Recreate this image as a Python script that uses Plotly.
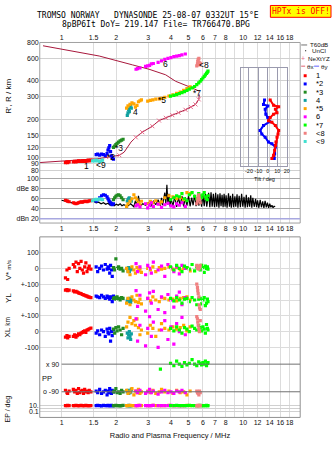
import math
import plotly.graph_objects as go

W, H = 335, 451

# ---------------- data ----------------
FREQ_TICKS = [1, 1.5, 2, 3, 4, 5, 6, 7, 8, 9, 10, 12, 14, 16, 18]
TOP_FREQ_LABELS = ["1", "1.5", "2", "3", "4", "5", "6", "7", "8", "", "10", "12", "14", "16", "18"]
MID_FREQ_LABELS = ["1", "1.5", "2", "3", "4", "5", "6", "7", "8", "9", "10", "12", "14", "16", "18"]
HEIGHT_TICKS = [80, 90, 100, 120, 150, 200, 300, 400, 600, 800]
AMP_TICKS = [20, 40, 60, 80, 100]
AMP_LABELS = ["dBn 20", "40", "60", "dBe 80", "100"]
TILT_TICKS = [-20, -10, 0, 10, 20]

ECHO_NAMES = ["1", "*2", "*3", "4", "*5", "6", "*7", "<8", "<9"]
ECHO_COLORS = ["#ff0000", "#0000ff", "#228b22", "#10a0a0", "#ffa500",
               "#ff00ff", "#00ff00", "#f08080", "#40e0d0"]

# rows: (freq MHz, range km, amplitude dB, V* m/s, YL km, XL km, PP deg, EP deg)
ECHO_1 = [
    (1.05, 92, 57, -60, 62, -35, -80, 10), (1.07, 93, 56, -10, 66, -25, -95, 9),
    (1.08, 92, 55, -70, 60, -40, -100, 11), (1.10, 93, 54, 0, 63, -30, -85, 10),
    (1.16, 93, 52, 25, 58, -30, -75, 9), (1.18, 94, 51, 10, 52, -20, -90, 10),
    (1.20, 93, 50, 40, 55, -35, -80, 11), (1.22, 94, 51, -20, 50, -25, -100, 10),
    (1.24, 95, 52, 30, 45, -15, -70, 9), (1.26, 94, 53, 0, 42, -20, -95, 10),
    (1.28, 94, 54, 45, 40, -10, -85, 11), (1.30, 95, 53, -10, 35, -5, -80, 10),
    (1.32, 94, 54, -30, 32, 0, -100, 9), (1.34, 95, 55, 10, 30, 5, -75, 10),
    (1.36, 94, 55, 35, 26, -5, -90, 11), (1.38, 95, 54, -20, 25, 10, -85, 10),
    (1.40, 96, 55, 0, 20, 12, -95, 9), (1.42, 95, 56, 15, 18, 18, -80, 10),
    (1.45, 96, 56, -5, 15, 22, -90, 10),
]
ECHO_2 = [
    (1.55, 106, 55, 10, 25, -10, -85, 9), (1.58, 107, 58, -20, 20, 5, -95, 11),
    (1.62, 105, 62, 0, 15, -20, -75, 10), (1.66, 107, 66, 15, 30, 10, -100, 8),
    (1.70, 106, 68, -10, 20, 0, -90, 12), (1.74, 104, 67, 25, 10, -30, -80, 10),
    (1.78, 108, 64, -5, 25, 15, -110, 9), (1.80, 115, 60, 10, 15, -5, -85, 11),
    (1.82, 120, 57, 0, 20, -15, -95, 10), (1.84, 125, 54, -30, 5, 20, -70, 10),
    (1.86, 112, 52, 20, 15, -60, -90, 9), (1.88, 104, 50, -10, 20, 0, -100, 11),
    (1.90, 100, 48, -50, -10, -25, -80, 10), (1.93, 98, 50, 5, 25, 10, -90, 10),
]
ECHO_3 = [
    (1.93, 121, 58, 5, 10, 15, -90, 10), (1.96, 124, 62, -10, 15, -10, -85, 9),
    (1.99, 127, 65, 60, 5, 25, -70, 11), (2.02, 130, 67, 0, 20, 5, -95, 10),
    (2.06, 133, 68, 10, 10, 30, -90, 10), (2.10, 136, 66, -5, 0, 10, -100, 8),
    (2.14, 138, 62, 0, 15, -20, -80, 10), (2.18, 140, 58, -15, 10, 20, -90, 11),
]
ECHO_4 = [
    (2.30, 215, 55, 0, -5, -10, -90, 10), (2.32, 225, 58, -15, 5, -40, -80, 9),
    (2.34, 240, 60, 5, -10, -20, -100, 11), (2.36, 230, 62, -20, 0, 0, -85, 10),
    (2.38, 250, 60, -10, 10, -30, -95, 10), (2.40, 260, 57, 0, -15, -50, -90, 9),
    (2.42, 245, 55, -5, 0, -15, -75, 10),
]
ECHO_5 = [
    (2.28, 245, 45, 0, -20, 30, -80, 10), (2.32, 255, 50, -20, 10, 60, -100, 9),
    (2.38, 262, 55, -40, -30, 90, -90, 11), (2.44, 270, 60, 10, 20, 50, -70, 10),
    (2.50, 265, 68, -10, 0, 70, -110, 10), (2.55, 250, 62, -30, -10, 40, -85, 9),
    (2.60, 258, 58, 5, 30, 80, -95, 10), (2.65, 275, 52, -15, -15, 25, -75, 11),
    (2.70, 280, 48, -5, 5, -20, -100, 10), (2.75, 285, 55, -25, -25, 10, -90, 10),
    (2.98, 278, 50, 0, 10, -10, -85, 9), (3.08, 282, 55, -10, -5, 40, -95, 10),
    (3.18, 285, 52, 10, 20, 20, -80, 11), (3.30, 288, 56, -20, 0, -30, -100, 10),
    (3.45, 290, 50, 5, -10, 10, -90, 10), (3.55, 292, 54, -5, 15, 50, -75, 9),
    (3.70, 298, 62, 0, 10, 20, -90, 10), (3.90, 305, 66, 10, 0, 10, -85, 11),
    (4.10, 312, 64, -5, 5, 30, -100, 10), (4.30, 320, 60, 5, -5, 15, -80, 10),
    (4.50, 328, 62, -10, 10, 25, -95, 9), (4.70, 338, 58, 0, 15, 40, -90, 10),
    (4.90, 348, 72, 5, 20, 5, -110, 11), (5.10, 360, 70, -15, 0, 30, -85, 10),
]
ECHO_6 = [
    (2.57, 494, 46, 30, 60, 80, -85, 10), (2.62, 500, 48, -20, -40, -60, -95, 9),
    (2.70, 505, 44, 10, 30, 40, -80, 11), (2.90, 520, 50, -40, -70, -90, -100, 10),
    (2.98, 525, 42, 20, 10, 20, -90, 10), (3.05, 530, 47, 0, 45, 95, -75, 9),
    (3.12, 545, 52, -30, -20, -30, -95, 10), (3.20, 548, 45, 40, 55, 60, -85, 11),
    (3.40, 560, 49, -10, -60, -100, -105, 10), (3.55, 575, 43, 15, 20, 10, -90, 10),
    (3.70, 590, 48, -50, -80, 70, -80, 9), (3.85, 600, 51, 25, 35, -50, -95, 10),
    (4.00, 610, 46, 5, 0, 30, -90, 11), (4.15, 620, 44, -20, -45, -80, -100, 10),
    (4.30, 625, 50, 10, 25, 50, -85, 10), (4.45, 632, 47, -35, 50, 0, -90, 9),
    (4.60, 640, 52, 20, -30, 90, -80, 10), (4.80, 650, 45, 0, 15, -20, -95, 10),
]
ECHO_7 = [
    (3.50, None, None, None, None, None, 58, None),
    (3.98, 304, 58, 10, 10, 20, 95, 10), (4.15, 308, 62, -10, -5, 5, 80, 9),
    (4.30, 313, 66, 20, 15, 30, 110, 11), (4.45, 318, 64, 0, 0, 10, 90, 10),
    (4.60, 324, 70, -20, -20, -10, 75, 10), (4.75, 330, 60, 15, 5, 25, 100, 9),
    (4.90, 338, 56, 5, 10, 15, 85, 10), (5.05, 345, 68, -5, -10, 0, 95, 11),
    (5.23, 353, 72, 25, 15, 35, 120, 10), (5.40, 362, 65, -15, 0, 20, 90, 10),
    (5.55, 375, 60, 10, -30, 10, 80, 9), (5.69, 386, 70, 0, 5, 40, 105, 10),
    (5.80, 398, 66, -10, 10, 25, 95, 11), (5.90, 410, 62, 20, -25, 5, 85, 10),
    (6.00, 422, 68, 5, 0, 30, 100, 10), (6.10, 435, 72, -25, 15, 15, 90, 9),
    (6.19, 447, 64, 15, -35, -10, 110, 10), (6.28, 458, 60, 0, -20, 45, 80, 11),
    (6.35, 468, 58, 10, 5, 20, 95, 10), (6.40, 478, 66, -5, -10, 10, 100, 10),
]
ECHO_8 = [
    (5.55, 525, 50, 20, 100, 95, -85, 8), (5.60, 545, 55, 10, 80, 80, -95, 10),
    (5.62, 570, 60, 0, 60, 60, -90, 12), (5.65, 590, 65, 15, 40, 40, -100, 10),
    (5.70, 600, 68, -5, 20, 20, -110, 9), (5.72, 560, 62, 10, -30, 5, -90, 11),
    (5.75, 535, 58, 5, -50, 0, -85, 10), (5.80, 550, 52, 20, -60, 70, -95, 10),
]
ECHO_9 = [
    (1.48, 95, 56, None, None, None, None, None), (1.52, 95, 58, None, None, None, None, None),
    (1.55, 96, 59, None, None, None, None, None), (1.58, 95, 58, None, None, None, None, None),
    (1.62, 94, 60, None, None, None, None, None), (1.65, 95, 59, None, None, None, None, None),
    (1.68, 96, 58, None, None, None, None, None),
]
ECHOES = [ECHO_1, ECHO_2, ECHO_3, ECHO_4, ECHO_5, ECHO_6, ECHO_7, ECHO_8, ECHO_9]

# echo label positions (freq, range)
LABEL_F = [1.37, 1.88, 2.08, 2.56, 3.57, 3.74, 5.57, 6.06, 1.65]
LABEL_H = [86.7, 101.8, 119.4, 230, 282, 541, 322, 529, 88.8]

# profile curves
PROFILE_UPPER_F = [0.79, 1.06, 1.61, 2.46, 3.03, 3.74, 4.24, 5.23, 5.69]
PROFILE_UPPER_H = [754, 697, 627, 534, 494, 447, 398, 353, 334]
PROFILE_LOWER_F = [0.758, 1.0, 1.25, 1.61, 1.83, 2.08, 2.21, 2.31, 2.41, 2.56, 2.78,
                   3.16, 3.44, 4.07, 4.81, 5.46, 5.69, 5.74]
PROFILE_LOWER_H = [92, 94, 96, 98.8, 101.8, 104.9, 111, 122, 133, 145, 159,
                   177, 196, 216, 238, 262, 287, 313]
NEXTYZ_F = [1.83, 2.08, 2.56, 2.78, 3.16, 3.44, 3.75, 4.07, 4.4, 4.81, 5.15, 5.46, 5.69]
NEXTYZ_H = [101.8, 104.9, 145, 159, 177, 196, 206, 216, 226, 238, 250, 262, 287]

# tilt profiles
TILT_Y_DEG = [-3.5, -4.6, 0, -2.8, -2.1, 0, 2, -4.6, -8.2, -6.4, -2.8, 0.7, 4.3, 8, 7.2, 6.8]
TILT_Y_H = [284, 262, 255, 240, 220, 207, 192, 179, 164, 154, 145, 133, 129, 122, 108, 99]
TILT_X_DEG = [2.5, 6.1, 11.5, 8, 9.7, 6.1, 2.5, 0.7, 4.3, 8, 11.5, 10.8, 9.7, 8.6, 8, 7.2, 6.1, 4.3]
TILT_X_H = [284, 258, 251, 240, 226, 220, 207, 195, 190, 179, 164, 154, 145, 133, 125, 115, 105, 99]

# noise / amplitude trace
AMP_F = [1.0, 1.05, 1.1, 1.15, 1.2, 1.25, 1.3, 1.35, 1.4, 1.45, 1.5, 1.55, 1.6, 1.65, 1.7,
         1.75, 1.8, 1.85, 1.9, 1.95, 2.0, 2.05, 2.1, 2.15, 2.2, 2.3, 2.4, 2.5, 2.55, 2.6,
         2.65, 2.7, 2.8, 2.9, 3.0, 3.1, 3.2, 3.3, 3.4, 3.5, 3.55, 3.6, 3.7, 3.75, 3.8,
         3.85, 3.9, 3.95, 4.0, 4.1, 4.2, 4.3, 4.4, 4.5, 4.6, 4.7, 4.8, 4.9, 5.0, 5.1,
         5.2, 5.3, 5.4, 5.5, 5.6, 5.7, 5.8, 5.9, 6.0, 6.1, 6.2, 6.3, 6.45, 6.55, 6.65,
         6.75, 6.85, 6.95, 7.05, 7.15, 7.25, 7.35, 7.45, 7.55, 7.65, 7.75, 7.85, 7.95,
         8.05, 8.15, 8.3, 8.4, 8.5, 8.6, 8.75, 8.85, 9.0, 9.1, 9.25, 9.35, 9.5, 9.65,
         9.8, 9.95, 10.1, 10.25, 10.4, 10.55, 10.7, 10.85, 11.0, 11.15, 11.3, 11.5,
         11.7, 11.85, 12.0, 12.2, 12.4, 12.6, 12.8, 13.0, 13.2, 13.4, 13.6, 13.8,
         14.0, 14.2, 14.4, 14.6, 14.8, 15.0]
AMP_DB = [57, 55, 53, 51, 50, 53, 52, 54, 55, 56, 55, 52, 53, 50, 52,
          49, 51, 47, 50, 46, 49, 47, 50, 46, 48, 45, 50, 44, 56, 47,
          66, 45, 50, 47, 52, 45, 55, 48, 58, 46, 62, 47, 72, 50, 88,
          48, 70, 45, 60, 46, 64, 44, 62, 47, 65, 45, 63, 46, 66, 45,
          62, 47, 68, 45, 64, 46, 66, 44, 67, 45, 70, 44, 72, 43, 73,
          44, 70, 43, 72, 44, 69, 42, 71, 45, 68, 43, 70, 44,
          67, 42, 71, 44, 66, 42, 70, 43, 65, 44, 69, 42, 66, 43,
          70, 44, 64, 42, 68, 43, 63, 44, 67, 42, 62, 44,
          60, 43, 57, 42, 58, 43, 55, 42, 56, 43, 52, 42,
          50, 43, 47, 42, 45, 44]

# ---------------- geometry helpers ----------------
def xp(px):
    return px / W


def yp(py):
    return 1 - py / H


def ydom(top, bot):
    return [1 - bot / H, 1 - top / H]


XDOM = [xp(40), xp(302)]
FRANGE = [math.log10(0.758), math.log10(20.6)]
TICKFONT = dict(family="Liberation Sans", size=7, color="#111")
GRID_LIGHT = "#dcdcdc"

fig = go.Figure()


def col(rows, i):
    return [r[i] for r in rows]


# profile lines
fig.add_trace(go.Scatter(x=PROFILE_UPPER_F, y=PROFILE_UPPER_H, mode="lines",
                         line=dict(color="#a8183c", width=1), xaxis="x", yaxis="y"))
fig.add_trace(go.Scatter(x=PROFILE_LOWER_F, y=PROFILE_LOWER_H, mode="lines",
                         line=dict(color="#a8183c", width=1), xaxis="x", yaxis="y"))
fig.add_trace(go.Scatter(x=NEXTYZ_F, y=NEXTYZ_H, mode="markers",
                         marker=dict(symbol="x-thin", size=4, line=dict(color="#e86a8a", width=1)),
                         xaxis="x", yaxis="y"))

# noise trace
fig.add_trace(go.Scatter(x=AMP_F, y=AMP_DB, mode="lines", line=dict(color="black", width=1.2),
                         xaxis="x2", yaxis="y2"))

panels = [(1, "x", "y"), (2, "x2", "y2"), (3, "x3", "y4"), (4, "x3", "y5"),
          (5, "x3", "y6"), (6, "x3", "y7"), (7, "x3", "y8")]
for rows, color in zip(ECHOES, ECHO_COLORS):
    f = col(rows, 0)
    for idx, xa, ya in panels:
        fig.add_trace(go.Scatter(x=f, y=col(rows, idx), mode="markers",
                                 marker=dict(symbol="square", size=3.2, color=color, line=dict(width=0)),
                                 xaxis=xa, yaxis=ya, cliponaxis=True))

# tilt inset
fig.add_trace(go.Scatter(x=TILT_Y_DEG, y=TILT_Y_H, mode="lines+markers",
                         line=dict(color="#0000ff", width=2),
                         marker=dict(symbol="square", size=3, color="#0000ff"),
                         xaxis="x4", yaxis="y9"))
fig.add_trace(go.Scatter(x=TILT_X_DEG, y=TILT_X_H, mode="lines+markers",
                         line=dict(color="#ff0000", width=2),
                         marker=dict(symbol="square", size=3, color="#ff0000"),
                         xaxis="x4", yaxis="y9"))

common_x = dict(type="log", range=FRANGE, domain=XDOM, tickvals=FREQ_TICKS, ticks="",
                tickangle=0, showgrid=True, gridcolor=GRID_LIGHT, gridwidth=1, zeroline=False,
                showline=False, tickfont=TICKFONT)

layout = dict(
    width=W, height=H, margin=dict(l=0, r=0, t=0, b=0), autosize=False,
    paper_bgcolor="white", plot_bgcolor="rgba(0,0,0,0)", showlegend=False,
    xaxis=dict(common_x, anchor="y", side="top", ticktext=TOP_FREQ_LABELS),
    yaxis=dict(type="log", domain=ydom(39, 170), range=[1.892, math.log10(800)], anchor="x",
               tickvals=HEIGHT_TICKS, ticktext=[str(v) for v in HEIGHT_TICKS], ticks="",
               showgrid=True, gridcolor="#d0d0d0", zeroline=False, tickfont=TICKFONT),
    xaxis2=dict(common_x, anchor="y2", side="bottom", ticktext=MID_FREQ_LABELS),
    yaxis2=dict(domain=ydom(171, 222), range=[11.6, 111.8], anchor="x2", tickvals=AMP_TICKS,
                ticktext=AMP_LABELS, ticks="", showgrid=True, gridcolor="#a8a8a8", gridwidth=1,
                zeroline=False, tickfont=TICKFONT),
    xaxis3=dict(common_x, anchor="y8", side="bottom", ticktext=TOP_FREQ_LABELS,
                title=dict(text="Radio and Plasma Frequency / MHz", standoff=7,
                           font=dict(family="Liberation Sans", size=7.5, color="#111"))),
    yaxis4=dict(domain=ydom(236, 300), range=[-200, 200], anchor="x3", tickvals=[100, 0, -100],
                ticktext=["100", "0", "+-100"], ticks="", showgrid=True, gridcolor=GRID_LIGHT,
                zeroline=False, tickfont=TICKFONT),
    yaxis5=dict(domain=ydom(268, 332), range=[-200, 200], anchor="x3", tickvals=[0],
                ticktext=["0"], ticks="", showgrid=True, gridcolor=GRID_LIGHT,
                zeroline=False, tickfont=TICKFONT),
    yaxis6=dict(domain=ydom(300, 364), range=[-200, 200], anchor="x3", tickvals=[100, 0, -100],
                ticktext=["+-100", "0", "-100"], ticks="", showgrid=True, gridcolor=GRID_LIGHT,
                zeroline=False, tickfont=TICKFONT),
    yaxis7=dict(domain=ydom(352, 400), range=[-135, 173.6], anchor="x3", showticklabels=False,
                ticks="", showgrid=False, zeroline=False),
    yaxis8=dict(type="log", domain=ydom(400, 419), range=[-3, 3.333], anchor="x3",
                tickvals=[0.1, 1, 10], ticktext=["0.1", "", "10."], ticks="", showgrid=True,
                gridcolor="#d0d0d0", zeroline=False, tickfont=TICKFONT),
    xaxis4=dict(domain=[xp(242), xp(289)], range=[-28.9, 20.6], anchor="y9", tickvals=TILT_TICKS,
                ticktext=[str(v) for v in TILT_TICKS], ticks="", tickangle=0, showgrid=True,
                gridcolor="#9a9aae", zeroline=False, showline=True, mirror=True,
                linecolor="#9a9aae", tickfont=dict(family="Liberation Sans", size=5.5, color="#111")),
    yaxis9=dict(type="log", domain=ydom(65, 164), range=[1.9383, 2.7022], anchor="x4",
                showticklabels=False, showgrid=False, zeroline=False, ticks="",
                showline=True, mirror=True, linecolor="#9a9aae"),
)
fig.update_layout(**layout)

shapes = []
# panel frames
shapes.append(dict(type="rect", xref="paper", yref="paper", x0=xp(40), x1=xp(302),
                   y0=yp(222), y1=yp(39), line=dict(color="#a0a0a0", width=1)))
shapes.append(dict(type="rect", xref="paper", yref="paper", x0=xp(40), x1=xp(302),
                   y0=yp(419), y1=yp(236), line=dict(color="#909090", width=1)))
# dBn 20 line
shapes.append(dict(type="line", xref="paper", yref="y2", x0=xp(40), x1=xp(302), y0=20, y1=20,
                   line=dict(color="#a8a8e0", width=1.5)))
# PP lines
for v in (90, -90):
    shapes.append(dict(type="line", xref="x3", yref="y7", x0=1.0, x1=20.6, y0=v, y1=v,
                       line=dict(color="#707070", width=1)))

annotations = []


def ann(text, x, y, size=7, xanchor="center", angle=0, color="#111",
        family="Liberation Sans", **kw):
    annotations.append(dict(text=text, x=xp(x), y=yp(y), xref="paper", yref="paper",
                            showarrow=False, xanchor=xanchor, yanchor="middle",
                            textangle=angle, font=dict(family=family, size=size, color=color), **kw))


# header
ann("TROMSO NORWAY   DYNASONDE 25-08-07 0332UT 15°E", 149, 11.5, size=8,
    family="DejaVu Sans Mono", color="black")
ann("8pBP6It DoY= 219.147 File= TR766470.BPG", 157, 20.5, size=8,
    family="DejaVu Sans Mono", color="black")
shapes.append(dict(type="rect", xref="paper", yref="paper", x0=xp(272), x1=xp(333),
                   y0=yp(13.5), y1=yp(1.5), fillcolor="#ffff00", line=dict(color="#ff0000", width=1)))
ann("HPTx is OFF!", 302.5, 7.8, size=8, family="DejaVu Sans Mono", color="#ff0000")

# side titles
ann("R', R / km", 9, 93, size=8, angle=-90)
ann("V* <span style='font-size:6px'>m/s</span>", 8, 270, size=8, angle=-90)
ann("YL", 8, 298, size=8, angle=-90)
ann("km", 8, 321, size=6.5, angle=-90)
ann("XL", 8, 333, size=8, angle=-90)
ann("EP / deg", 8, 410, size=7, angle=-90)
ann("PP", 47, 380, size=7.5)
ann("x 90", 61, 365, size=7, xanchor="right")
ann("o -90", 61, 393, size=7, xanchor="right")
ann("Tilt / deg", 266, 177.5, size=5.5)

# echo labels in the range panel
for name, fv, hv in zip(ECHO_NAMES, LABEL_F, LABEL_H):
    annotations.append(dict(text=name, x=math.log10(fv), y=math.log10(hv), xref="x", yref="y",
                            showarrow=False, xanchor="center", yanchor="middle",
                            font=dict(family="Liberation Sans", size=8.5, color="black")))

# legend
LEGFONT = 6.2
shapes.append(dict(type="line", xref="paper", yref="paper", x0=xp(303), x1=xp(309),
                   y0=yp(41.5), y1=yp(41.5), line=dict(color="#a0a0a0", width=1.5)))
ann("T60dB", 310, 41.5, size=LEGFONT, xanchor="left")
shapes.append(dict(type="rect", xref="paper", yref="paper", x0=xp(307), x1=xp(308),
                   y0=yp(48), y1=yp(47), fillcolor="black", line=dict(width=0)))
ann("UnCl", 312, 47.5, size=LEGFONT, xanchor="left")
ann("+", 305, 55, size=7, color="#e86a8a")
ann("NeXtYZ", 308, 55, size=LEGFONT, xanchor="left")
shapes.append(dict(type="line", xref="paper", yref="paper", x0=xp(303), x1=xp(307),
                   y0=yp(63), y1=yp(63), line=dict(color="#e06070", width=1)))
ann("θx", 307, 63, size=LEGFONT, xanchor="left")
shapes.append(dict(type="line", xref="paper", yref="paper", x0=xp(316), x1=xp(321),
                   y0=yp(63), y1=yp(63), line=dict(color="#6060ff", width=1)))
ann("θy", 321, 63, size=LEGFONT, xanchor="left")
for k, (name, color) in enumerate(zip(ECHO_NAMES, ECHO_COLORS)):
    yy = 72.7 + k * 8.33
    shapes.append(dict(type="rect", xref="paper", yref="paper", x0=xp(305.5), x1=xp(308.5),
                       y0=yp(yy + 1.5), y1=yp(yy - 1.5), fillcolor=color, line=dict(width=0)))
    ann(name, 316, yy, size=7.5, xanchor="left", color="black")

fig.update_layout(shapes=shapes, annotations=annotations)
fig.write_html("out.html")
